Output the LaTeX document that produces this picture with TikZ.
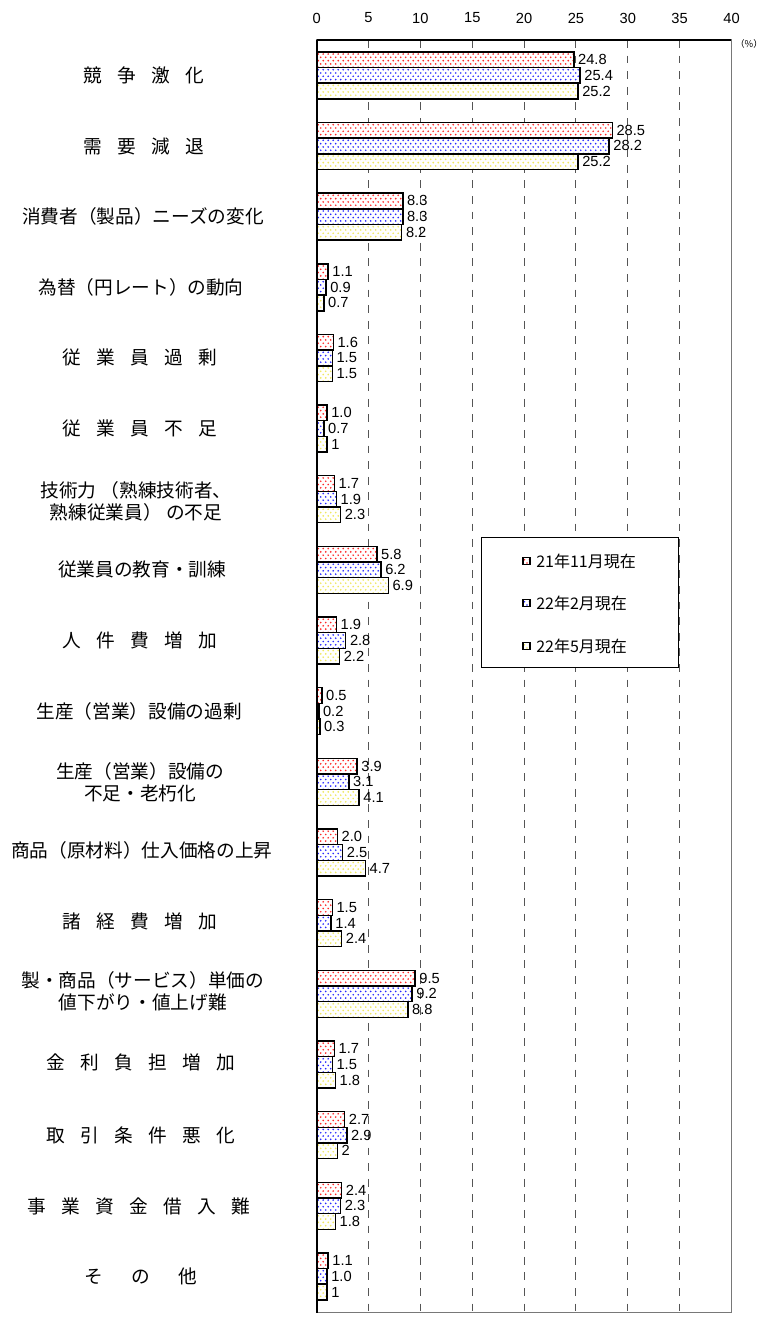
\documentclass[tikz,border=0pt]{standalone}
\usepackage{fontspec}
\setmainfont{Noto Sans CJK JP}
\newfontfamily\numfont{Liberation Sans}
\definecolor{dotred}{RGB}{255,40,40}
\definecolor{dotblue}{RGB}{40,40,255}
\definecolor{dotyellow}{RGB}{240,232,95}
\definecolor{gridgray}{RGB}{85,85,85}
\definecolor{framegray}{RGB}{120,120,120}
\newcommand\gq{\hspace{0.82em}}
\newcommand\gw{\hspace{1.52em}}
\newcommand\dotrect[6]{%
  \fill[white] (#1,#2) rectangle (#3,#4);
  \begin{scope}
    \clip (#1,#2) rectangle (#3,#4);
    \foreach \rr/\ph in {2.2/0pt,5.5/1.875pt,8.8/0pt,12.1/1.875pt,15.4/0pt}{
      \draw[#5, line width=1.4pt, line cap=round, dash pattern=on 0pt off 3.75pt, dash phase=\ph]
        ({#1+1.5},{#2+\rr}) -- ({#3+3},{#2+\rr});
    }
  \end{scope}
  \draw[black, line width=#6] (#1,#2) rectangle (#3,#4);
}
\tikzset{
  gridline/.style={draw=gridgray, line width=0.75pt, dash pattern=on 5.8pt off 5.9pt},
  vlab/.style={anchor=west, inner sep=0pt, font=\numfont\fontsize{11pt}{13pt}\selectfont},
  tlab/.style={inner sep=0pt, font=\numfont\fontsize{11pt}{13pt}\selectfont},
  clab/.style={inner sep=0pt, align=center, font=\fontsize{14pt}{16.5pt}\selectfont},
  llab/.style={anchor=west, inner sep=0pt, font=\fontsize{12pt}{14pt}\selectfont},
}
\begin{document}
\begin{tikzpicture}[x=0.75pt,y=-0.75pt]
\useasboundingbox (0,0) rectangle (768,1318);
% gridlines
\foreach \t in {5,10,...,40}{
  \draw[gridline] ({316.7+\t*10.37},40) -- ({316.7+\t*10.37},1312.5);
}
% axis tick labels
\foreach \t in {0,5,...,40}{
  \node[tlab] (tick\t) at ({316.7+\t*10.37},18) {\t};
}
\node[inner sep=0pt, font=\fontsize{7pt}{8pt}\selectfont] (unit) at (749,44) {（\%）};
% bars
\foreach \ci/\va/\vb/\vc in {0/24.8/25.4/25.2, 1/28.5/28.2/25.2, 2/8.3/8.3/8.2, 3/1.1/0.9/0.7,
  4/1.6/1.5/1.5, 5/1.0/0.7/1, 6/1.7/1.9/2.3, 7/5.8/6.2/6.9, 8/1.9/2.8/2.2, 9/0.5/0.2/0.3,
  10/3.9/3.1/4.1, 11/2.0/2.5/4.7, 12/1.5/1.4/2.4, 13/9.5/9.2/8.8, 14/1.7/1.5/1.8,
  15/2.7/2.9/2, 16/2.4/2.3/1.8, 17/1.1/1.0/1}{
  \pgfmathsetmacro\ya{51.825+70.65*\ci}
  \pgfmathsetmacro\yb{\ya+15.67}
  \pgfmathsetmacro\yd{\ya+31.34}
  \pgfmathsetmacro\ye{\ya+47.0}
  \pgfmathsetmacro\xa{316.7+\va*10.37}
  \pgfmathsetmacro\xb{316.7+\vb*10.37}
  \pgfmathsetmacro\xc{316.7+\vc*10.37}
  \dotrect{316.7}{\ya}{\xa}{\yb}{dotred}{1.1pt}
  \dotrect{316.7}{\yb}{\xb}{\yd}{dotblue}{1.1pt}
  \dotrect{316.7}{\yd}{\xc}{\ye}{dotyellow}{1.1pt}
  \node[vlab] (va\ci) at ({\xa+4},{\ya+7.8}) {\va};
  \node[vlab] (vb\ci) at ({\xb+4},{\yb+7.8}) {\vb};
  \node[vlab] (vc\ci) at ({\xc+4},{\yd+7.8}) {\vc};
}
% frame
\draw[framegray, line width=0.9pt] (316.7,40) rectangle (731.3,1312.5);
\draw[black, line width=0.8pt] (316.7,40) -- (731.3,40);
\draw[black, line width=1.2pt] (316.7,40) -- (316.7,1312.5);
% category labels
\node[clab] (cat1)  at (144,75.3)   {競\gq 争\gq 激\gq 化};
\node[clab] (cat2)  at (144,146.0)  {需\gq 要\gq 減\gq 退};
\node[clab] (cat3)  at (143,216.6)  {消費者（製品）ニーズの変化};
\node[clab] (cat4)  at (141,287.3)  {為替（円レート）の動向};
\node[clab] (cat5)  at (140,357.9)  {従\gq 業\gq 員\gq 過\gq 剰};
\node[clab] (cat6)  at (140,428.6)  {従\gq 業\gq 員\gq 不\gq 足};
\node[clab] (cat7)  at (136,501.5)  {技術力 （熟練技術者、\\熟練従業員） の不足};
\node[clab] (cat8)  at (142,569.9)  {従業員の教育・訓練};
\node[clab] (cat9)  at (140,640.5)  {人\gq 件\gq 費\gq 増\gq 加};
\node[clab] (cat10) at (139,711.2)  {生産（営業）設備の過剰};
\node[clab] (cat11) at (140,781.8)  {生産（営業）設備の\\不足・老朽化};
\node[clab] (cat12) at (142,850.5)  {商品（原材料）仕入価格の上昇};
\node[clab] (cat13) at (140,921.1)  {諸\gq 経\gq 費\gq 増\gq 加};
\node[clab] (cat14) at (143,991.0)  {製・商品（サービス）単価の\\値下がり・値上げ難};
\node[clab] (cat15) at (141,1062.4) {金\gq 利\gq 負\gq 担\gq 増\gq 加};
\node[clab] (cat16) at (141,1135.1) {取\gq 引\gq 条\gq 件\gq 悪\gq 化};
\node[clab] (cat17) at (139,1206.7) {事\gq 業\gq 資\gq 金\gq 借\gq 入\gq 難};
\node[clab] (cat18) at (141,1276.4) {そ\gw の\gw 他};
% legend
\draw[black, line width=0.75pt, fill=white] (481.7,537) rectangle (678,667);
\dotrect{523}{557.5}{530}{564.5}{dotred}{0.9pt}
\dotrect{523}{599.5}{530}{606.5}{dotblue}{0.9pt}
\dotrect{523}{642.5}{530}{649.5}{dotyellow}{0.9pt}
\node[llab] (leg1) at (536,561) {21年11月現在};
\node[llab] (leg2) at (536,603) {22年2月現在};
\node[llab] (leg3) at (536,646) {22年5月現在};
\end{tikzpicture}
\end{document}
